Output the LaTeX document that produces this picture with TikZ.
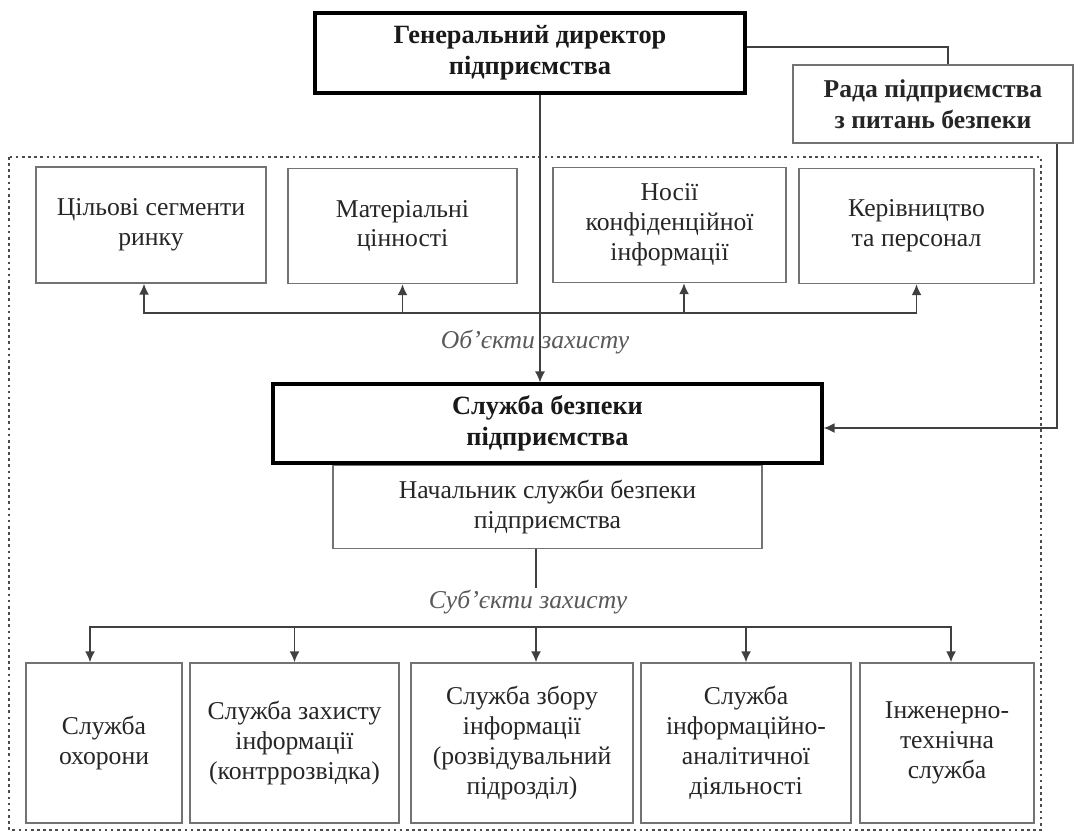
\documentclass[tikz,border=0pt]{standalone}
\usepackage{fontspec}
\setmainfont{Liberation Serif}
\usetikzlibrary{arrows.meta,positioning,calc}

\begin{document}
\begin{tikzpicture}[
  >=Latex,
  x=0.02cm,y=-0.02cm,
  box/.style={draw=black!55, line width=0.8pt, fill=white, align=center, inner sep=2pt,
    font=\fontsize{14.6}{17}\selectfont, text=black!85},
  council/.style={box, font=\fontsize{14.6}{17.5}\selectfont\bfseries},
  chief/.style={draw=black, line width=1.8pt, fill=white, align=center, inner sep=2pt,
    font=\fontsize{15}{17.5}\selectfont\bfseries, text=black!90},
  lbl/.style={font=\fontsize{14.6}{17}\selectfont\itshape, text=black!65, inner sep=1pt},
  arrow/.style={-{Latex[length=2.2mm,width=2mm]}, line width=1pt, draw=black!75},
  thinarrow/.style={arrow, line width=0.7pt},
  link/.style={line width=0.7pt, draw=black!75},
  frame/.style={draw=black!70, line width=0.9pt, dash pattern=on 1.5pt off 2pt}
]
\useasboundingbox (0,0) rectangle (1074,832);

% Protected area
\draw[frame] (9,157) rectangle (1041,830);

% Management
\node[chief, minimum width=8.6cm, minimum height=1.6cm] (gd) at (530,53) {Генеральний директор\\підприємства};
\node[council, minimum width=5.6cm, minimum height=1.56cm] (rada) at (933,104) {Рада підприємства\\з питань безпеки};

% Row 1: objects of protection
\node[box, minimum width=4.6cm, minimum height=2.32cm] (o1) at (151,225) {Цільові сегменти\\ринку};
\node[box, minimum width=4.58cm, minimum height=2.3cm] (o2) at (402.5,226) {Матеріальні\\цінності};
\node[box, minimum width=4.66cm, minimum height=2.3cm] (o3) at (669.5,225) {Носії\\конфіденційної\\інформації};
\node[box, minimum width=4.7cm, minimum height=2.3cm] (o4) at (916.5,226) {Керівництво\\та персонал};

% Security service and its head
\node[chief, minimum width=10.98cm, minimum height=1.58cm] (sb) at (547.5,423.5) {Служба безпеки\\підприємства};
\node[box, minimum width=8.58cm, minimum height=1.66cm, anchor=north] (nach) at (sb.south) {Начальник служби безпеки\\підприємства};

% Row 2: subjects of protection
\node[box, minimum width=3.12cm, minimum height=3.2cm] (s1) at (104,743) {Служба\\охорони};
\node[box, minimum width=4.18cm, minimum height=3.2cm] (s2) at (294.5,743) {Служба захисту\\інформації\\(контррозвідка)};
\node[box, minimum width=4.44cm, minimum height=3.2cm] (s3) at (522,743) {Служба збору\\інформації\\(розвідувальний\\підрозділ)};
\node[box, minimum width=4.2cm, minimum height=3.2cm] (s4) at (746,743) {Служба\\інформаційно-\\аналітичної\\діяльності};
\node[box, minimum width=3.48cm, minimum height=3.2cm] (s5) at (947,743) {Інженерно-\\технічна\\служба};

% Labels
\node[lbl] (objlbl) at (535,342) {Об’єкти захисту};
\node[lbl] (subjlbl) at (528,602) {Суб’єкти захисту};

\coordinate (obus) at (540,313);
\coordinate (sbus) at (536,627);

% Director and council links
\draw[link] ([yshift=0.12cm]gd.east) -| ([xshift=0.3cm]rada.north);
\draw[arrow] ([xshift=-0.34cm]rada.south east) |- ([yshift=-0.09cm]sb.east);

% Objects bus
\draw[thinarrow] (gd.south -| obus) -- (sb.north -| obus);
\draw[arrow] (obus) -| ([xshift=-0.14cm]o1.south);
\draw[arrow] (obus) -| (o2.south);
\draw[arrow] (obus) -| ([xshift=0.29cm]o3.south);
\draw[arrow] (obus) -| (o4.south);

% Subjects bus
\draw[link] (nach.south -| sbus) -- (sbus |- subjlbl.north);
\draw[arrow] (sbus) -| ([xshift=-0.28cm]s1.north);
\draw[arrow] (sbus) -| (s2.north);
\draw[arrow] (sbus) -- (s3.north -| sbus);
\draw[arrow] (sbus) -| (s4.north);
\draw[arrow] (sbus) -| ([xshift=0.08cm]s5.north);

\end{tikzpicture}
\end{document}
